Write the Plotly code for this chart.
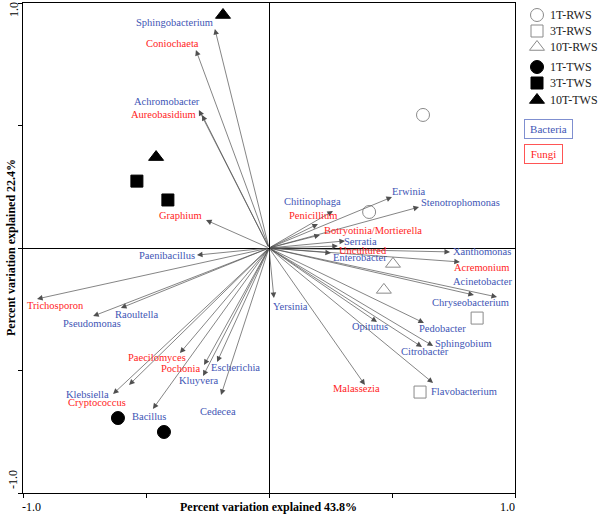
import plotly.graph_objects as go

W, H = 600, 515

# ---- species loadings (arrow tips) ----
bact_names = ["Sphingobacterium", "Achromobacter", "Paenibacillus", "Pseudomonas", "Raoultella",
              "Kluyvera", "Escherichia", "Klebsiella", "Bacillus", "Cedecea", "Yersinia",
              "Opitutus", "Pedobacter", "Sphingobium", "Citrobacter", "Flavobacterium",
              "Chryseobacterium", "Acinetobacter", "Xanthomonas", "Enterobacter", "Serratia",
              "Chitinophaga", "Erwinia", "Stenotrophomonas"]
bact_x = [-0.220, -0.285, -0.293, -0.715, -0.602, -0.268, -0.211, -0.634, -0.472, -0.195, 0.020,
          0.439, 0.630, 0.667, 0.622, 0.667, 0.833, 0.927, 0.736, 0.252, 0.309,
          0.260, 0.500, 0.610]
bact_y = [0.894, 0.563, -0.029, -0.278, -0.245, -0.522, -0.465, -0.596, -0.657, -0.600, -0.204,
          -0.302, -0.306, -0.400, -0.404, -0.551, -0.192, -0.200, -0.016, -0.020, 0.029,
          0.151, 0.208, 0.167]

fungi_names = ["Coniochaeta", "Aureobasidium", "Graphium", "Trichosporon", "Paecilomyces",
               "Pochonia", "Cryptococcus", "Malassezia", "Acremonium", "Uncultured",
               "Botryotinia/Mortierella", "Penicillium"]
fungi_x = [-0.297, -0.272, -0.256, -0.943, -0.362, -0.264, -0.569, 0.390, 0.776, 0.280, 0.207, 0.199]
fungi_y = [0.808, 0.543, 0.114, -0.208, -0.429, -0.478, -0.559, -0.559, -0.057, 0.008, 0.053, 0.098]

# ---- sample scores ----
samples = ["1T-RWS", "3T-RWS", "10T-RWS", "1T-TWS", "3T-TWS", "10T-TWS"]
sample_x = [[0.626, 0.407], [0.846, 0.614], [0.504, 0.467],
            [-0.614, -0.427], [-0.537, -0.411], [-0.187, -0.459]]
sample_y = [[0.543, 0.147], [-0.286, -0.588], [-0.065, -0.171],
            [-0.694, -0.751], [0.273, 0.196], [0.951, 0.371]]

x_title = "Percent variation explained 43.8%"
y_title = "Percent variation explained 22.4%"

# ---- styling / layout (pixel offsets of labels relative to arrow tips) ----
label_off = {
    "Sphingobacterium": (-40, -6), "Coniochaeta": (-23, -7), "Achromobacter": (-32, -9),
    "Aureobasidium": (-39, 0), "Graphium": (-26, -5), "Paenibacillus": (-30, 0),
    "Trichosporon": (18, 7), "Pseudomonas": (-1, 7), "Raoultella": (16, 6),
    "Paecilomyces": (-23, 4), "Pochonia": (-24, 3), "Kluyvera": (-5, 5),
    "Escherichia": (18, 6), "Klebsiella": (-26, 0), "Cryptococcus": (-32, 18),
    "Bacillus": (-4, 8), "Cedecea": (-3, 16), "Yersinia": (17, 9),
    "Opitutus": (-7, 5), "Pedobacter": (19, 6), "Sphingobium": (30, -3),
    "Citrobacter": (3, 5), "Flavobacterium": (31, 8), "Malassezia": (-8, 4),
    "Chryseobacterium": (-3, 7), "Acinetobacter": (-15, -16), "Acremonium": (22, 6),
    "Xanthomonas": (32, 0), "Enterobacter": (29, 5), "Uncultured": (25, 4),
    "Serratia": (15, 1), "Botryotinia/Mortierella": (53, -5), "Penicillium": (-5, -8),
    "Chitinophaga": (-20, -10), "Erwinia": (17, -6), "Stenotrophomonas": (41, -5),
}
BLUE = "#4155b5"
RED = "#ff2323"
FONT = "Liberation Serif"
sym = {"1T-RWS": ("circle-open", 13, "#8a8a8a"), "3T-RWS": ("square-open", 12, "#8a8a8a"),
       "10T-RWS": ("triangle-up-open", 13, "#8a8a8a"), "1T-TWS": ("circle", 13, "black"),
       "3T-TWS": ("square", 12, "black"), "10T-TWS": ("triangle-up", 13, "black")}

PL, PR, PT, PB = 23, 515, 3, 493

fig = go.Figure()

for i, s in enumerate(samples):
    m, sz, c = sym[s]
    fig.add_trace(go.Scatter(x=sample_x[i], y=sample_y[i], mode="markers", name=s,
                             showlegend=False,
                             marker=dict(symbol=m, size=sz, color=c,
                                         line=dict(width=1, color=c))))

# legend (drawn on an overlay axis in pixel units)
leg_y = [15, 31, 47, 67, 83, 100]
for i, s in enumerate(samples):
    m, sz, c = sym[s]
    fig.add_trace(go.Scatter(x=[537], y=[leg_y[i]], mode="markers", showlegend=False,
                             xaxis="x2", yaxis="y2", hoverinfo="skip",
                             marker=dict(symbol=m, size=sz, color=c,
                                         line=dict(width=1, color=c))))

ann = []
def add_arrows(names, xs, ys, color):
    for n, x, y in zip(names, xs, ys):
        ann.append(dict(x=x, y=y, ax=0, ay=0, xref="x", yref="y", axref="x", ayref="y",
                        text="", showarrow=True, arrowhead=2, arrowsize=1.6,
                        arrowwidth=0.7, arrowcolor="#505050", standoff=0, startstandoff=0))
        dx, dy = label_off[n]
        ann.append(dict(x=x, y=y, xref="x", yref="y", text=n, showarrow=False,
                        xshift=dx, yshift=-dy, xanchor="center", yanchor="middle",
                        font=dict(family=FONT, size=10.5, color=color)))

add_arrows(bact_names, bact_x, bact_y, BLUE)
add_arrows(fungi_names, fungi_x, fungi_y, RED)

def px(x, y):
    return x / W, 1 - y / H

for s, yy in zip(samples, leg_y):
    xx, yp = px(548, yy)
    ann.append(dict(x=xx, y=yp, xref="paper", yref="paper", text=s, showarrow=False,
                    xanchor="left", yanchor="middle", font=dict(family=FONT, size=12, color="#222")))

for t, col, bc, yy, wd in [("Bacteria", BLUE, "#7f8fd0", 129, 41), ("Fungi", RED, "#ff5555", 154, 31)]:
    xx, yp = px(524, yy)
    ann.append(dict(x=xx, y=yp, xref="paper", yref="paper", text=t, showarrow=False,
                    xanchor="left", yanchor="middle", width=wd, height=12,
                    bordercolor=bc, borderwidth=1, borderpad=3,
                    font=dict(family=FONT, size=11, color=col)))

# tick labels
for t, x, y, ang in [("-1.0", 31, 507, 0), ("1.0", 507, 507, 0),
                     ("1.0", 14, 10, -90), ("-1.0", 13, 480, -90)]:
    xx, yp = px(x, y)
    ann.append(dict(x=xx, y=yp, xref="paper", yref="paper", text=t, showarrow=False,
                    textangle=ang, xanchor="center", yanchor="middle",
                    font=dict(family=FONT, size=12, color="black")))

# axis titles
xx, yp = px(268, 507)
ann.append(dict(x=xx, y=yp, xref="paper", yref="paper", text="<b>%s</b>" % x_title,
                showarrow=False, xanchor="center", yanchor="middle",
                font=dict(family=FONT, size=12, color="black")))
xx, yp = px(11, 248)
ann.append(dict(x=xx, y=yp, xref="paper", yref="paper", text="<b>%s</b>" % y_title,
                showarrow=False, textangle=-90, xanchor="center", yanchor="middle",
                font=dict(family=FONT, size=12, color="black")))

axis_common = dict(range=[-1, 1], tickvals=[-1, -0.5, 0, 0.5, 1], showticklabels=False,
                   ticks="outside", ticklen=4, tickcolor="black", tickwidth=1,
                   showgrid=False, zeroline=True, zerolinecolor="black", zerolinewidth=1,
                   showline=True, linecolor="black", linewidth=1, mirror=True)

fig.update_layout(
    width=W, height=H,
    margin=dict(l=0, r=0, t=0, b=0),
    paper_bgcolor="white", plot_bgcolor="rgba(0,0,0,0)",
    showlegend=False,
    xaxis=dict(domain=[PL / W, PR / W], anchor="y", **axis_common),
    yaxis=dict(domain=[1 - PB / H, 1 - PT / H], anchor="x", **axis_common),
    xaxis2=dict(domain=[0, 1], range=[0, W], anchor="y2", visible=False, fixedrange=True),
    yaxis2=dict(domain=[0, 1], range=[H, 0], anchor="x2", visible=False, fixedrange=True),
    annotations=ann,
)

fig.write_html("out.html", config={"displayModeBar": False},
               post_script="document.body.style.margin='0';document.body.style.overflow='hidden';")
